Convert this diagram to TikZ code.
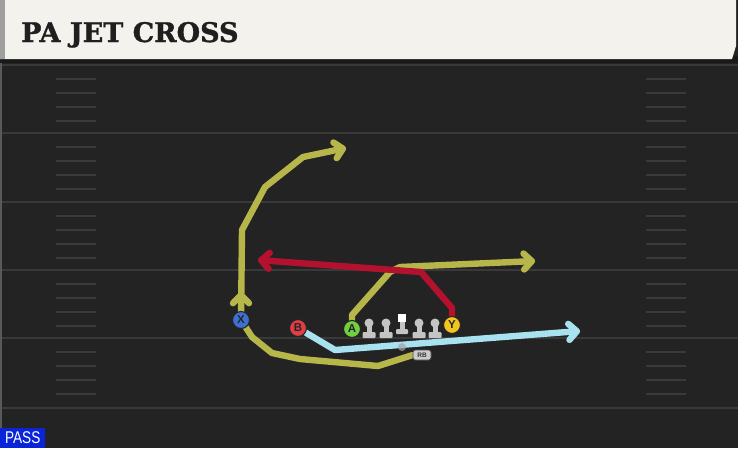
\documentclass[tikz,border=0pt]{standalone}
\usepackage{fontspec}
\setmainfont{Liberation Sans}
\newfontfamily\titlefont[FakeBold=1.2]{DejaVu Serif}
\usetikzlibrary{arrows.meta}
\definecolor{field}{HTML}{232323}
\definecolor{cream}{HTML}{F4F2EC}
\definecolor{yardline}{HTML}{393939}
\definecolor{hashc}{HTML}{3A3A3A}
\definecolor{olive}{HTML}{B7B64A}
\definecolor{crimson}{HTML}{B3122F}
\definecolor{skyb}{HTML}{A8E2F0}
\definecolor{passblue}{HTML}{0A24D8}
\definecolor{pX}{HTML}{3E70D2}
\definecolor{pB}{HTML}{E23C45}
\definecolor{pA}{HTML}{70D040}
\definecolor{pY}{HTML}{F2C41E}
\definecolor{lineman}{HTML}{C4C4C4}
\pgfdeclarelayer{fieldlayer}
\pgfdeclarelayer{routelayer}
\pgfsetlayers{fieldlayer,routelayer,main}
\tikzset{
  yard/.style={draw=yardline, line width=2.4pt},
  hash/.style={draw=hashc, line width=1.6pt},
  routebase/.style={line width=4.4pt, line join=round, line cap=round},
  outl/.style={routebase, line width=6.4pt, draw=black!90},
  tipped/.style={-{Straight Barb[length=8pt,width=16pt,round]}},
  player/.style={circle, minimum size=17pt, inner sep=0pt, draw=black!85, line width=1.1pt,
    font=\bfseries\fontsize{11.5}{11.5}\selectfont, text=black!85},
  rbtag/.style={rectangle, rounded corners=2.5pt, fill=gray!40!white, draw=black!70, line width=0.6pt,
    minimum width=18pt, minimum height=10pt, inner sep=0pt, font=\bfseries\fontsize{6.5}{6.5}\selectfont, text=black!80},
}
\newcommand\routepath[2]{\draw[outl,#1] #2; \draw[routebase,#1] #2;}
\begin{document}
\begin{tikzpicture}[x=1pt,y=-1pt]
\useasboundingbox (0,0) rectangle (738,448);
\begin{pgfonlayer}{fieldlayer}
\fill[field] (0,0) rectangle (738,448);
\fill[black!90] (0,56) rectangle (738,63);
\fill[cream] (0,0) -- (736,0) -- (736,46) -- (732,59) -- (0,59) -- cycle;
\fill[gray!75] (0,0) rectangle (5,59);
\fill[black!65] (0,63) rectangle (2,430);
\foreach \yy in {65,133,202,270,338,408} \draw[yard] (2,\yy) -- (738,\yy);
\foreach \bb in {65,133,202,270,338} {
  \foreach \oo in {14,28,42,56} {
    \draw[hash] (56,{\bb+\oo}) -- (96,{\bb+\oo});
    \draw[hash] (646,{\bb+\oo}) -- (686,{\bb+\oo});
  }
}
\end{pgfonlayer}
\node[anchor=base west, inner sep=0pt, text=black!88, font=\titlefont\bfseries\fontsize{27}{28}\selectfont] (title) at (21,42) {PA JET CROSS};
\node[anchor=south west, fill=passblue, text=white, minimum width=45pt, minimum height=20pt, inner sep=0pt,
  font=\fontsize{17}{17}\selectfont] (pass) at (0,448) {\scalebox{0.8}[1]{PASS}};
% players
\node[player, fill=pX] (X) at (241,320) {X};
\node[player, fill=pB] (B) at (298,328) {B};
\node[player, fill=pA] (A) at (352,329) {A};
\node[player, fill=pY] (Y) at (452,325) {Y};
\node[rbtag] (RB) at (422,355) {RB};
% linemen
\foreach \xx in {369,386,419,435} {
  \fill[lineman] (\xx,323) circle (4.5);
  \fill[lineman] (\xx-2.5,323) rectangle (\xx+2.5,333);
  \fill[lineman, rounded corners=1pt] (\xx-6.5,332) rectangle (\xx+6.5,338);
}
\fill[white] (398,314) rectangle (406,322);
\fill[lineman] (399.5,322) rectangle (404.5,330);
\fill[lineman, rounded corners=1pt] (396,329) rectangle (408,334);
\fill[gray!70, opacity=0.7] (402,347) circle (4);
% routes
\begin{pgfonlayer}{routelayer}
\routepath{draw=olive}{(X.center) -- (252,337) -- (272,353) -- (300,359) -- (378,366) -- (RB.west)}
\routepath{draw=olive, tipped}{(X.center) -- (242,230) -- (265,187) -- (303,157) -- (346,148)}
\routepath{draw=olive, tipped}{(241,304) -- (241,292)}
\routepath{draw=skyb, tipped}{(B.center) -- (335,350) -- (580,331)}
\routepath{draw=olive, tipped}{(A.center) -- (352,315) -- (390,272) -- (400,267) -- (535,261)}
\routepath{draw=crimson, tipped}{(Y.center) -- (452,308) -- (421,272) -- (258,260)}
\end{pgfonlayer}
\end{tikzpicture}
\end{document}
